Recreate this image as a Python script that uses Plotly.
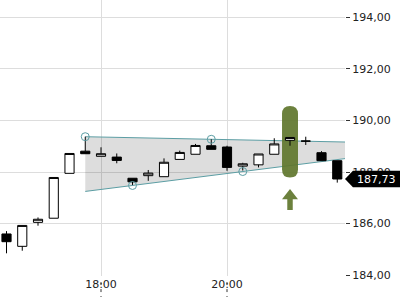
import plotly.graph_objects as go

# ---- data ----
times = ["16:30", "16:45", "17:00", "17:15", "17:30", "17:45", "18:00", "18:15",
         "18:30", "18:45", "19:00", "19:15", "19:30", "19:45", "20:00", "20:15",
         "20:30", "20:45", "21:00", "21:15", "21:30", "21:45"]
opens = [185.60, 185.12, 186.05, 186.21, 187.95, 188.81, 188.61, 188.58,
         187.76, 187.86, 187.82, 188.49, 188.69, 189.02, 188.97, 188.23,
         188.28, 188.69, 189.23, 189.20, 188.75, 188.44]
highs = [185.71, 185.93, 186.24, 187.79, 188.72, 189.37, 188.96, 188.72,
         187.76, 188.08, 188.53, 188.83, 189.09, 189.27, 189.02, 188.36,
         188.70, 189.31, 189.34, 189.37, 188.81, 188.44]
lows = [184.85, 184.95, 185.92, 186.21, 187.95, 188.71, 188.61, 188.34,
        187.50, 187.66, 187.82, 188.49, 188.69, 188.88, 188.05, 188.06,
        188.18, 188.69, 189.02, 189.05, 188.44, 187.59]
closes = [185.30, 185.93, 186.17, 187.79, 188.72, 188.71, 188.71, 188.45,
          187.62, 187.96, 188.38, 188.76, 189.03, 188.88, 188.18, 188.32,
          188.70, 189.09, 189.34, 189.20, 188.44, 187.73]

pivot_times = ["17:45", "18:30", "19:45", "20:15"]
pivot_values = [189.37, 187.48, 189.27, 188.02]

highlight_time = "21:00"
highlight_band = [187.79, 190.56]

y_ticks = [184, 186, 188, 190, 192, 194]
x_tick_times = ["18:00", "20:00"]

x_range_times = ["16:23:48", "21:52:22"]
y_range = [183.97, 194.67]


def to_min(t):
    parts = [int(p) for p in t.split(":")]
    m = parts[0] * 60 + parts[1]
    if len(parts) > 2:
        m += parts[2] / 60
    return m


xs = [to_min(t) for t in times]
px_ = [to_min(t) for t in pivot_times]
xr = [to_min(t) for t in x_range_times]

# channel lines
up_slope = (pivot_values[2] - pivot_values[0]) / (px_[2] - px_[0])
lo_slope = (pivot_values[3] - pivot_values[1]) / (px_[3] - px_[1])
xa, xb = px_[0], xr[1]
up_a = pivot_values[0] + up_slope * (xa - px_[0])
up_b = pivot_values[0] + up_slope * (xb - px_[0])
lo_a = pivot_values[1] + lo_slope * (xa - px_[1])
lo_b = pivot_values[1] + lo_slope * (xb - px_[1])

TEAL = "#5c9ea4"
GREEN = "rgba(96,118,44,0.92)"

shapes = []
shapes.append(dict(type="path", xref="x", yref="y", layer="between",
                   path=f"M {xa},{up_a} L {xb},{up_b} L {xb},{lo_b} L {xa},{lo_a} Z",
                   fillcolor="rgba(0,0,0,0.135)", line=dict(width=0)))
shapes.append(dict(type="line", xref="x", yref="y", layer="between",
                   x0=xa, y0=up_a, x1=xb, y1=up_b, line=dict(color=TEAL, width=1)))
shapes.append(dict(type="line", xref="x", yref="y", layer="between",
                   x0=xa, y0=lo_a, x1=xb, y1=lo_b, line=dict(color=TEAL, width=1)))

# highlight pill
hx = to_min(highlight_time)
hw = 7.6
ry = 0.31
y0, y1 = highlight_band
x0, x1 = hx - hw, hx + hw
pill = (f"M {x0},{y1-ry} Q {x0},{y1} {hx},{y1} Q {x1},{y1} {x1},{y1-ry} "
        f"L {x1},{y0+ry} Q {x1},{y0} {hx},{y0} Q {x0},{y0} {x0},{y0+ry} Z")
shapes.append(dict(type="path", xref="x", yref="y", layer="between", path=pill,
                   fillcolor=GREEN, line=dict(width=0)))

# up arrow below highlight
tip = 187.34
base = 186.95
bottom = 186.53
hwid = 7.6
swid = 2.6
arrow = (f"M {hx},{tip} L {hx+hwid},{base} L {hx+swid},{base} L {hx+swid},{bottom} "
         f"L {hx-swid},{bottom} L {hx-swid},{base} L {hx-hwid},{base} Z")
shapes.append(dict(type="path", xref="x", yref="y", layer="between", path=arrow,
                   fillcolor=GREEN, line=dict(width=0)))

# dotted ticks through x labels
for t in x_tick_times:
    shapes.append(dict(type="line", xref="x", yref="paper", x0=to_min(t), x1=to_min(t),
                       y0=-0.022, y1=-0.076, line=dict(color="#333", width=1, dash="3px,4px")))

# last price label
last = closes[-1]
hh = 0.32
shapes.append(dict(type="path", xref="paper", yref="y", layer="above",
                   path=(f"M 1.0,{last} L 1.023,{last+hh} L 1.16,{last+hh} "
                         f"L 1.16,{last-hh} L 1.023,{last-hh} Z"),
                   fillcolor="black", line=dict(width=0)))

fig = go.Figure()
fig.add_trace(go.Candlestick(
    x=xs, open=opens, high=highs, low=lows, close=closes,
    increasing=dict(fillcolor="white", line=dict(color="black", width=1)),
    decreasing=dict(fillcolor="black", line=dict(color="black", width=1)),
    whiskerwidth=0, showlegend=False, hoverinfo="skip"))
fig.add_trace(go.Scatter(
    x=px_, y=pivot_values, mode="markers", showlegend=False, hoverinfo="skip",
    marker=dict(symbol="circle-open", size=8, color=TEAL, line=dict(width=1, color=TEAL))))

fig.add_annotation(xref="paper", yref="y", x=1.03, y=last, text=f"{last:.2f}".replace(".", ","),
                   showarrow=False, xanchor="left", yanchor="middle",
                   font=dict(family="DejaVu Sans", size=11, color="white"))

fig.update_layout(
    width=400, height=300,
    margin=dict(l=0, r=55, t=0, b=24),
    paper_bgcolor="white", plot_bgcolor="white",
    boxgap=0.17,
    shapes=shapes,
    font=dict(family="DejaVu Sans", size=11, color="#222"),
    xaxis=dict(range=xr, rangeslider=dict(visible=False), showgrid=True,
               gridcolor="#dddddd", gridwidth=1, zeroline=False, showline=False,
               tickvals=[to_min(t) for t in x_tick_times], ticktext=x_tick_times,
               ticks="", tickfont=dict(family="DejaVu Sans", size=11, color="#222")),
    yaxis=dict(range=y_range, side="right", showgrid=True, gridcolor="#dddddd",
               gridwidth=1, zeroline=False, showline=False,
               tickvals=y_ticks, ticktext=[f"{v:.2f}".replace(".", ",") for v in y_ticks],
               ticks="outside", ticklen=4, tickcolor="#333",
               tickfont=dict(family="DejaVu Sans", size=11, color="#222")),
)

fig.write_html("out.html")
